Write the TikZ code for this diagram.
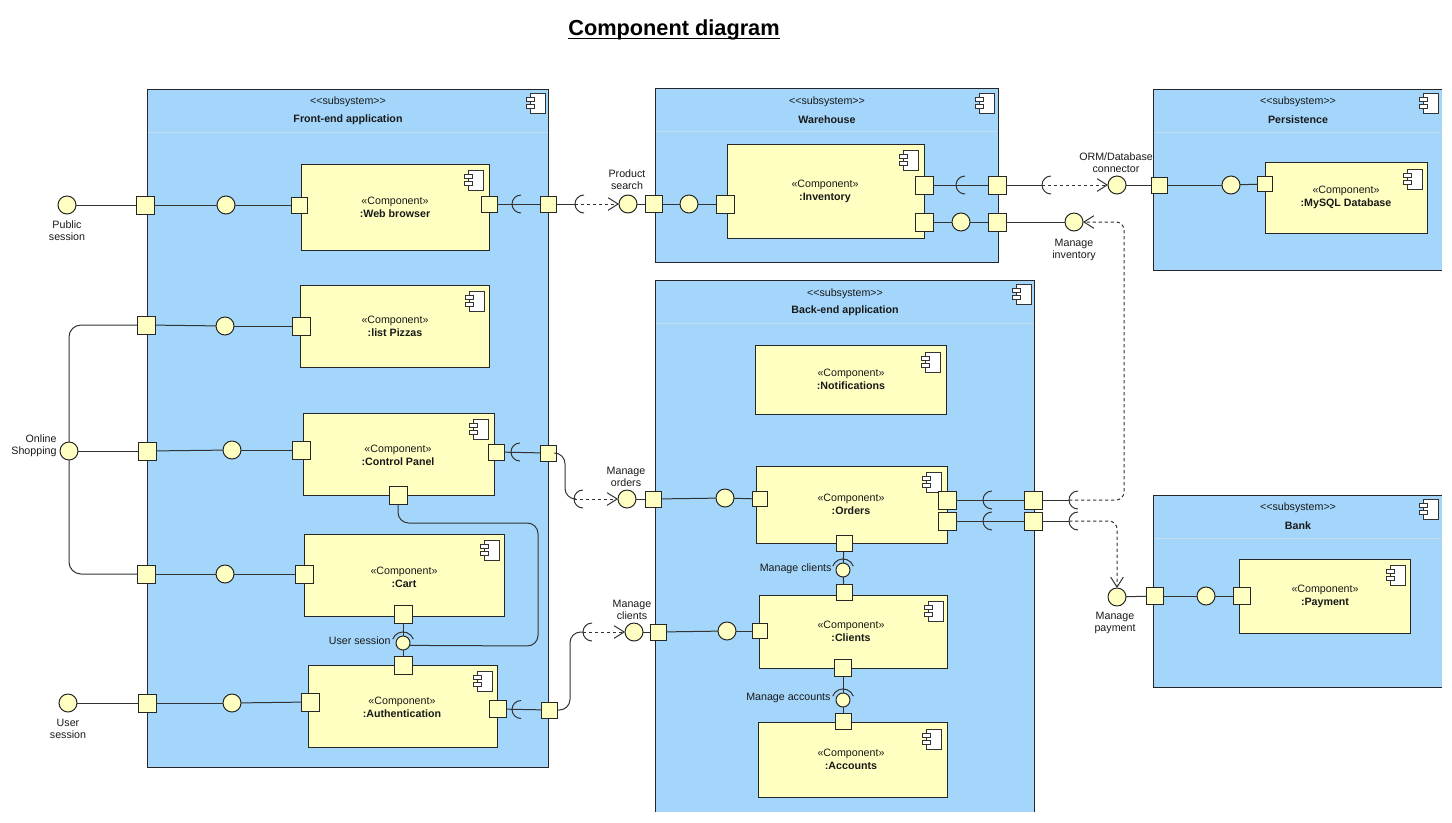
\documentclass[tikz,border=0pt]{standalone}
\usepackage{fontspec}
\setmainfont{Liberation Sans}
\usetikzlibrary{arrows.meta}
\definecolor{subblue}{RGB}{163,214,250}
\definecolor{compyellow}{RGB}{255,255,194}
\definecolor{headline}{RGB}{196,222,238}
\tikzset{every picture/.style={line width=0.75pt}}
\tikzset{
  subsys/.style={draw=black!85,fill=subblue,anchor=north west,inner sep=0pt,outer sep=0pt},
  subsysopen/.style={subsys,draw=none},
  comp/.style={draw=black!85,fill=compyellow,anchor=north west,inner sep=0pt,outer sep=0pt},
  port/.style={draw=black!85,fill=compyellow,minimum size=#1*0.75pt,inner sep=0pt,outer sep=0pt},
  port/.default=17,
  iface/.style={circle,draw=black!85,fill=compyellow,minimum size=18*0.75pt,inner sep=0pt,outer sep=0pt},
  smalliface/.style={iface,minimum size=14*0.75pt},
  lbl/.style={font=\fontsize{8}{9.2}\selectfont,align=center,inner sep=0pt,text=black!90,yshift=-0.75pt},
  boldlbl/.style={lbl,font=\bfseries\fontsize{8}{9.2}\selectfont},
  namelbl/.style={font=\fontsize{8}{9.8}\selectfont,align=center,inner sep=0pt,text=black!90,yshift=-0.75pt},
  wire/.style={draw=black!80},
  req/.style={draw=black!80,dash pattern=on 2.5pt off 2pt,-{Straight Barb[length=7.5pt,width=9.5pt]}},
}
% component icon, top left corner given
\newcommand{\compicon}[2]{
  \draw[black!80,fill=white] (#1+4,#2) rectangle (#1+19,#2+20);
  \draw[black!80,fill=white] (#1,#2+4) rectangle (#1+8,#2+8);
  \draw[black!80,fill=white] (#1,#2+11) rectangle (#1+8,#2+15);
}
% socket arcs: leftmost point given, or the interface inside
\newcommand{\sockleft}[1]{\draw[black!80] ([shift={(9,-9)}]#1) arc[start angle=-90,end angle=-270,radius=9];}
\newcommand{\socktop}[1]{\draw[black!80] ([shift={(-10.3,-3.8)}]#1) arc[start angle=-160,end angle=-20,radius=11];}

\begin{document}
\begin{tikzpicture}[x=0.75pt,y=0.75pt,yscale=-1,xscale=1]
\useasboundingbox (0,0) rectangle (1452,822);

\node (title) [font=\bfseries\fontsize{16.3}{18}\selectfont,inner sep=0pt,anchor=base] at (674,35.5) {Component diagram};
\draw[line width=1.1pt] ([shift={(0,3)}]title.base west) -- ([shift={(0,3)}]title.base east);

% subsystems
\node (front) [subsys,minimum width=401*0.75pt,minimum height=678*0.75pt] at (147,89) {};
\node (ware) [subsys,minimum width=343*0.75pt,minimum height=174*0.75pt] at (655,88) {};
\node (pers) [subsysopen,minimum width=289*0.75pt,minimum height=181*0.75pt] at (1153,89) {};
\node (back) [subsysopen,minimum width=379*0.75pt,minimum height=532*0.75pt] at (655,280) {};
\node (bank) [subsysopen,minimum width=289*0.75pt,minimum height=192*0.75pt] at (1153,495) {};
\draw[black!85] (pers.north east) -- (pers.north west) -- (pers.south west) -- (pers.south east);
\draw[black!85] (bank.north east) -- (bank.north west) -- (bank.south west) -- (bank.south east);
\draw[black!85] (back.south west) -- (back.north west) -- (back.north east) -- (back.south east);
\draw[headline] (148,132) -- (548,132);
\draw[headline] (656,131) -- (997,131);
\draw[headline] (1154,132) -- (1441,132);
\draw[headline] (656,323) -- (1034,323);
\draw[headline] (1154,538) -- (1441,538);
\node (frontst) [lbl] at (348,101) {<{}<subsystem>{}>};
\node (frontnm) [boldlbl] at (348,119) {Front-end application};
\node (warest) [lbl] at (827,101) {<{}<subsystem>{}>};
\node (warenm) [boldlbl] at (827,119) {Warehouse};
\node (persst) [lbl] at (1298,101) {<{}<subsystem>{}>};
\node (persnm) [boldlbl] at (1298,119) {Persistence};
\node (backst) [lbl] at (845,293) {<{}<subsystem>{}>};
\node (backnm) [boldlbl] at (845,310) {Back-end application};
\node (bankst) [lbl] at (1298,507) {<{}<subsystem>{}>};
\node (banknm) [boldlbl] at (1298,525) {Bank};
\compicon{526}{93}
\compicon{975}{93}
\compicon{1419}{93}
\compicon{1012}{284}
\compicon{1419}{499}

% components
\node (web) [comp,minimum width=188*0.75pt,minimum height=86*0.75pt] at (301,164) {};
\node (pizzas) [comp,minimum width=189*0.75pt,minimum height=82*0.75pt] at (300,285) {};
\node (panel) [comp,minimum width=191*0.75pt,minimum height=82*0.75pt] at (303,413) {};
\node (cart) [comp,minimum width=200*0.75pt,minimum height=82*0.75pt] at (304,534) {};
\node (auth) [comp,minimum width=189*0.75pt,minimum height=82*0.75pt] at (308,665) {};
\node (inv) [comp,minimum width=197*0.75pt,minimum height=94*0.75pt] at (727,144) {};
\node (mysql) [comp,minimum width=162*0.75pt,minimum height=71*0.75pt] at (1265,162) {};
\node (notif) [comp,minimum width=191*0.75pt,minimum height=69*0.75pt] at (755,345) {};
\node (orders) [comp,minimum width=191*0.75pt,minimum height=77*0.75pt] at (756,466) {};
\node (clients) [comp,minimum width=188*0.75pt,minimum height=73*0.75pt] at (759,595) {};
\node (accts) [comp,minimum width=189*0.75pt,minimum height=75*0.75pt] at (758,722) {};
\node (pay) [comp,minimum width=171*0.75pt,minimum height=74*0.75pt] at (1239,559) {};
\compicon{464}{170}
\compicon{465}{291}
\compicon{469}{419}
\compicon{480}{540}
\compicon{473}{671}
\compicon{899}{150}
\compicon{1403}{169}
\compicon{921}{352}
\compicon{922}{472}
\compicon{924}{601}
\compicon{922}{729}
\compicon{1386}{565}
\node (webt) [namelbl] at (395,206.5) {«Component»\\\textbf{:Web browser}};
\node (pizzast) [namelbl] at (395,325.5) {«Component»\\\textbf{:list Pizzas}};
\node (panelt) [namelbl] at (398,454.5) {«Component»\\\textbf{:Control Panel}};
\node (cartt) [namelbl] at (404,576.5) {«Component»\\\textbf{:Cart}};
\node (autht) [namelbl] at (402,706.5) {«Component»\\\textbf{:Authentication}};
\node (invt) [namelbl] at (825,190.5) {«Component»\\\textbf{:Inventory}};
\node (mysqlt) [namelbl] at (1346,196.5) {«Component»\\\textbf{:MySQL Database}};
\node (notift) [namelbl] at (851,378.5) {«Component»\\\textbf{:Notifications}};
\node (orderst) [namelbl] at (851,503.5) {«Component»\\\textbf{:Orders}};
\node (clientst) [namelbl] at (851,630.5) {«Component»\\\textbf{:Clients}};
\node (acctst) [namelbl] at (851,758.5) {«Component»\\\textbf{:Accounts}};
\node (payt) [namelbl] at (1325,595.5) {«Component»\\\textbf{:Payment}};

% ports
\node (pPub) [port=18] at (145,205) {};
\node (pShopA) [port=18] at (146,325) {};
\node (pShopB) [port=18] at (147,451) {};
\node (pShopC) [port=18] at (146,574) {};
\node (pSess) [port=18] at (147,703) {};
\node (pWebL) [port=16] at (299,205) {};
\node (pPizL) [port=18] at (301,326) {};
\node (pPanL) [port=18] at (301,450) {};
\node (pCartL) [port=18] at (304,574) {};
\node (pAuthL) [port=18] at (310,702) {};
\node (pWebR) [port=16] at (489,204) {};
\node (pFrontA) [port=16] at (548,204) {};
\node (pPanR) [port=16] at (496,452) {};
\node (pFrontB) [port=16] at (548,453) {};
\node (pAuthR) [port=17] at (498,709) {};
\node (pFrontC) [port=16] at (549,710) {};
\node (pPanB) [port=18] at (398,495) {};
\node (pCartB) [port=18] at (403,614) {};
\node (pAuthT) [port=18] at (403,665) {};
\node (pWareL) [port=17] at (654,204) {};
\node (pInvL) [port=18] at (725,204) {};
\node (pInvA) [port=18] at (924,185) {};
\node (pInvB) [port=18] at (924,222) {};
\node (pWareA) [port=18] at (997,185) {};
\node (pWareB) [port=18] at (997,222) {};
\node (pPersL) [port=16] at (1159,185) {};
\node (pSqlL) [port=15] at (1265,184) {};
\node (pBackA) [port=16] at (653,499) {};
\node (pOrdL) [port=15] at (760,499) {};
\node (pOrdA) [port=18] at (947,500) {};
\node (pOrdB) [port=18] at (947,521) {};
\node (pBackC) [port=18] at (1033,500) {};
\node (pBackD) [port=18] at (1033,521) {};
\node (pOrdB2) [port=16] at (844,543) {};
\node (pCliT) [port=16] at (844,592) {};
\node (pBackB) [port=16] at (658,632) {};
\node (pCliL) [port=15] at (760,631) {};
\node (pCliB) [port=17] at (843,668) {};
\node (pAccT) [port=16] at (843,721) {};
\node (pBankL) [port=17] at (1155,596) {};
\node (pPayL) [port=17] at (1242,596) {};

% interfaces
\node (iPub) [iface] at (67,205) {};
\node (iShop) [iface] at (69,451) {};
\node (iSess) [iface] at (68,703) {};
\node (iWeb) [iface] at (226,205) {};
\node (iPiz) [iface] at (225,326) {};
\node (iPan) [iface] at (232,450) {};
\node (iCart) [iface] at (225,574) {};
\node (iAuth) [iface] at (232,703) {};
\node (iUser) [smalliface] at (403,643) {};
\node (iSearch) [iface] at (628,204) {};
\node (iInv) [iface] at (689,204) {};
\node (iStock) [iface] at (961,222) {};
\node (iManInv) [iface] at (1074,222) {};
\node (iOrm) [iface] at (1117,185) {};
\node (iSql) [iface] at (1231,185) {};
\node (iManOrd) [iface] at (627,499) {};
\node (iOrd) [iface] at (725,498) {};
\node (iManCli) [iface] at (634,632) {};
\node (iCli) [iface] at (727,631) {};
\node (iClients) [smalliface] at (843,570) {};
\node (iAccts) [smalliface] at (843,700) {};
\node (iManPay) [iface] at (1117,597) {};
\node (iPay) [iface] at (1206,596) {};

% socket positions
\coordinate (sWeb) at (512,204);
\coordinate (sPan) at (511,452);
\coordinate (sAuth) at (512,709.5);
\coordinate (sSearch) at (575,204);
\coordinate (sOrd) at (574,499);
\coordinate (sCli) at (583,632);
\coordinate (sInv) at (956,185);
\coordinate (sOrm) at (1042,185);
\coordinate (sOrdA) at (983,500);
\coordinate (sOrdB) at (983,521);
\coordinate (sManI) at (1069,500);
\coordinate (sManP) at (1069,521);
\coordinate (bendInv) at (1124,222);

% connectors
\draw[wire] (iPub) -- (pPub);
\draw[wire] (pPub) -- (iWeb);
\draw[wire] (iWeb) -- (pWebL);
\draw[wire] (pShopA) -- (iPiz);
\draw[wire] (iPiz) -- (pPizL);
\draw[wire] (iShop) -- (pShopB);
\draw[wire] (pShopB) -- (iPan);
\draw[wire] (iPan) -- (pPanL);
\draw[wire] (pShopC) -- (iCart);
\draw[wire] (iCart) -- (pCartL);
\draw[wire] (iSess) -- (pSess);
\draw[wire] (pSess) -- (iAuth);
\draw[wire] (iAuth) -- (pAuthL);
\draw[wire,rounded corners=9pt] (pShopA.west) -| (iShop.north);
\draw[wire,rounded corners=9pt] (pShopC.west) -| (iShop.south);
\draw[wire] (pWebR) -- (pFrontA);
\draw[wire] (pPanR) -- (pFrontB);
\draw[wire] (pAuthR) -- (pFrontC);
\draw[wire] (pFrontA) -- (sSearch);
\draw[wire,rounded corners=8pt] (pFrontB.east) -- ++(9,0) |- (sOrd);
\draw[wire,rounded corners=8pt] (pFrontC.east) -- ++(13,0) |- (sCli);
\draw[wire,rounded corners=8pt] (pPanB.south) |- ++(70,19) -| ++(70,123) -- (iUser.-20);
\draw[wire] (pCartB) -- (iUser);
\draw[wire] (pAuthT) -- (iUser);
\draw[wire] (iSearch) -- (pWareL);
\draw[wire] (pWareL) -- (iInv);
\draw[wire] (iInv) -- (pInvL);
\draw[wire] (pInvA) -- (pWareA);
\draw[wire] (pInvB) -- (iStock);
\draw[wire] (iStock) -- (pWareB);
\draw[wire] (pWareB) -- (iManInv);
\draw[wire] (pWareA) -- (sOrm);
\draw[wire] (iOrm) -- (pPersL);
\draw[wire] (pPersL) -- (iSql);
\draw[wire] (iSql) -- (pSqlL);
\draw[wire] (iManOrd) -- (pBackA);
\draw[wire] (pBackA) -- (iOrd);
\draw[wire] (iOrd) -- (pOrdL);
\draw[wire] (pOrdA) -- (pBackC);
\draw[wire] (pOrdB) -- (pBackD);
\draw[wire] (pBackC) -- (sManI);
\draw[wire] (pBackD) -- (sManP);
\draw[wire] (iManCli) -- (pBackB);
\draw[wire] (pBackB) -- (iCli);
\draw[wire] (iCli) -- (pCliL);
\draw[wire] (pOrdB2) -- (iClients);
\draw[wire] (pCliT) -- (iClients);
\draw[wire] (pCliB) -- (iAccts);
\draw[wire] (pAccT) -- (iAccts);
\draw[wire] (iManPay) -- (pBankL);
\draw[wire] (pBankL) -- (iPay);
\draw[wire] (iPay) -- (pPayL);
\draw[req] (sSearch) -- (iSearch);
\draw[req] (sOrd) -- (iManOrd);
\draw[req] (sCli) -- (iManCli);
\draw[req] (sOrm) -- (iOrm);
\draw[req,rounded corners=6pt] (sManI) -| (bendInv) -- (iManInv);
\draw[req,rounded corners=6pt] (sManP) -| (iManPay);

% sockets
\sockleft{sWeb}
\sockleft{sPan}
\sockleft{sAuth}
\sockleft{sSearch}
\sockleft{sOrd}
\sockleft{sCli}
\sockleft{sInv}
\sockleft{sOrm}
\sockleft{sOrdA}
\sockleft{sOrdB}
\sockleft{sManI}
\sockleft{sManP}
\socktop{iUser}
\socktop{iClients}
\socktop{iAccts}

% labels
\node (lPub) [lbl] at (67,230) {Public\\session};
\node (lShop) [lbl,anchor=east,align=right] at (57,445) {Online\\Shopping};
\node (lSess) [lbl] at (68,728) {User\\session};
\node (lUser) [lbl,anchor=east] at (391,640) {User session};
\node (lSearch) [lbl] at (627,179) {Product\\search};
\node (lOrm) [lbl] at (1116,162) {ORM/Database\\connector};
\node (lManInv) [lbl] at (1074,249) {Manage\\inventory};
\node (lManOrd) [lbl] at (626,476) {Manage\\orders};
\node (lManCli) [lbl] at (632,609) {Manage\\clients};
\node (lClients) [lbl,anchor=east] at (832,568) {Manage clients};
\node (lAccts) [lbl,anchor=east] at (831,697) {Manage accounts};
\node (lManPay) [lbl] at (1115,622) {Manage\\payment};
\end{tikzpicture}
\end{document}
